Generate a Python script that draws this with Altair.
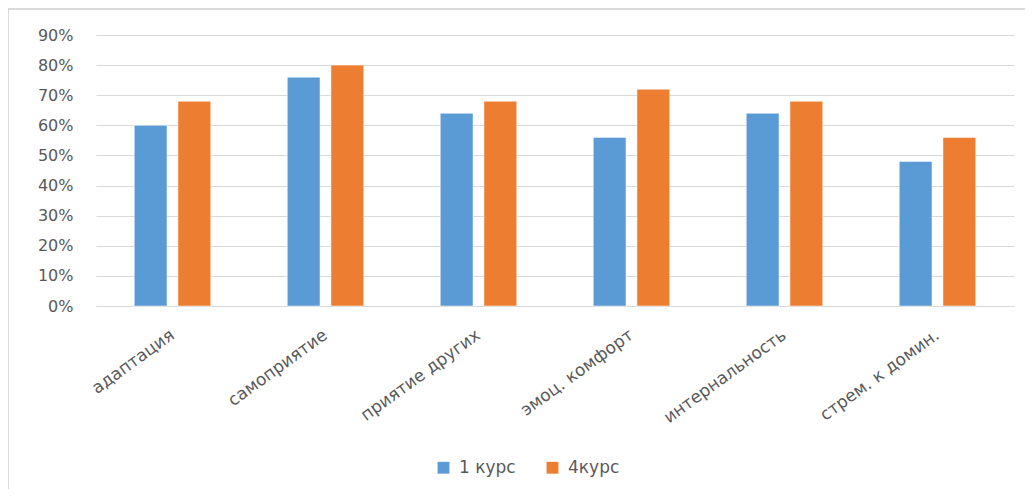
import altair as alt
import pandas as pd

categories = ["адаптация", "самоприятие", "приятие других", "эмоц. комфорт", "интернальность", "стрем. к домин."]
series_names = ["1 курс", "4курс"]
course1 = [0.60, 0.76, 0.64, 0.56, 0.64, 0.48]
course4 = [0.68, 0.80, 0.68, 0.72, 0.68, 0.56]
y_ticks = [0.0, 0.1, 0.2, 0.3, 0.4, 0.5, 0.6, 0.7, 0.8, 0.9]
colors = ["#5B9BD5", "#ED7D31"]

rows = []
for c, a, b in zip(categories, course1, course4):
    rows.append({"cat": c, "series": series_names[0], "value": a})
    rows.append({"cat": c, "series": series_names[1], "value": b})
df = pd.DataFrame(rows)

FONT = "DejaVu Sans"
GRAY = "#595959"

bars = alt.Chart(df).mark_bar(stroke="white", strokeWidth=0.5).encode(
    x=alt.X("cat:N", sort=categories, title=None,
            scale=alt.Scale(paddingInner=0.5, paddingOuter=0.25),
            axis=alt.Axis(labelAngle=-36, labelAlign="right", labelBaseline="middle",
                          labelFont=FONT, labelFontSize=17, labelColor=GRAY,
                          ticks=False, domainColor="#D9D9D9", labelPadding=27, labelLimit=300)),
    xOffset=alt.XOffset("series:N", sort=series_names, scale=alt.Scale(paddingInner=0.25)),
    y=alt.Y("value:Q", title=None,
            scale=alt.Scale(domain=[0, 0.9], nice=False),
            axis=alt.Axis(values=y_ticks, format=".0%", labelFont=FONT, labelFontSize=16,
                          labelColor=GRAY, ticks=False, domain=False, gridColor="#D9D9D9",
                          labelPadding=23)),
    color=alt.Color("series:N", sort=series_names,
                    scale=alt.Scale(domain=series_names, range=colors),
                    legend=alt.Legend(title=None, orient="none", direction="horizontal",
                                      legendX=339, legendY=424, symbolType="square",
                                      symbolSize=140, symbolStrokeWidth=0,
                                      labelFont=FONT, labelFontSize=17, labelColor=GRAY,
                                      columnPadding=28, labelOffset=7)),
)

frame_top = alt.Chart(df).mark_rule(color="#D9D9D9", strokeWidth=1.5).encode(
    x=alt.value(-88), x2=alt.value(1030), y=alt.value(-26))
frame_left = alt.Chart(df).mark_rule(color="#D9D9D9", strokeWidth=1.5).encode(
    x=alt.value(-88), y=alt.value(-26), y2=alt.value(470))

chart = alt.layer(frame_top, frame_left, bars).properties(
    width=918, height=271,
    autosize=alt.AutoSizeParams(type="none"),
    padding={"left": 88, "top": 27, "right": 11, "bottom": 183},
).configure_view(stroke=None)

chart.save("out.html", embed_options={"renderer": "svg", "actions": False})
